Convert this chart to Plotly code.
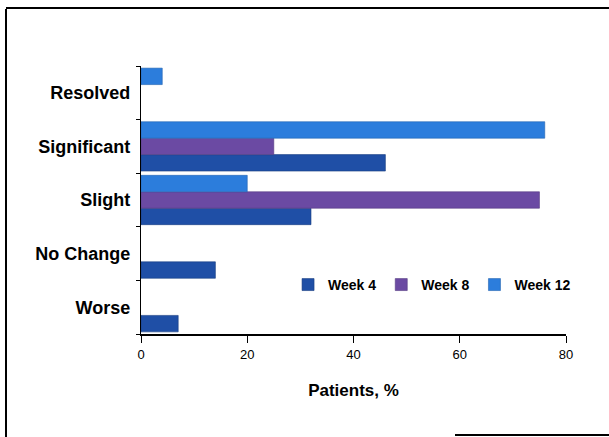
import plotly.graph_objects as go

categories = ["Worse", "No Change", "Slight", "Significant", "Resolved"]
series_names = ["Week 4", "Week 8", "Week 12"]
week4 = [7, 14, 32, 46, None]
week8 = [None, None, 75, 25, None]
week12 = [None, None, 20, 76, 4]
x_ticks = [0, 20, 40, 60, 80]

colors = ["#1f4fa6", "#6b4aa3", "#2c7ddc"]
edge = ["#173d80", "#553a82", "#2163b0"]

W, H = 609, 437
L, R, T, B = 141, 43, 66, 103
pw, ph = W - L - R, H - T - B

fig = go.Figure()
for name, vals, c, e in zip(series_names, [week4, week8, week12], colors, edge):
    fig.add_trace(go.Bar(
        y=categories, x=vals, name=name, orientation="h",
        marker=dict(color=c, line=dict(color=e, width=0.6)),
    ))

fig.update_layout(
    width=W, height=H,
    margin=dict(l=L, r=R, t=T, b=B, pad=0),
    paper_bgcolor="white", plot_bgcolor="white",
    barmode="group", bargap=0.08, bargroupgap=0,
    font=dict(family="Liberation Sans, Arial, sans-serif", color="black"),
    showlegend=True,
    legend=dict(
        orientation="h", x=0.346, y=0.183, xanchor="left", yanchor="middle",
        font=dict(size=14, family="Liberation Sans, Arial, sans-serif", weight="bold"),
        bgcolor="rgba(255,255,255,0)", traceorder="normal",
        itemwidth=30,
    ),
    xaxis=dict(
        range=[0, 80], tickvals=x_ticks, ticktext=[str(v) for v in x_ticks],
        ticks="outside", ticklen=7, tickwidth=1.2, tickcolor="black",
        showline=True, linecolor="black", linewidth=2,
        showgrid=False, zeroline=False,
        tickfont=dict(size=13),
        title=dict(text="Patients, %", font=dict(size=17, weight="bold"), standoff=24),
    ),
    yaxis=dict(
        type="category", categoryorder="array", categoryarray=categories,
        tickson="boundaries", ticks="outside", ticklen=4, tickcolor="black",
        showline=True, linecolor="black", linewidth=1.2,
        showgrid=False, zeroline=False,
        tickfont=dict(size=18, weight="bold"),
        ticklabelstandoff=6,
    ),
)

def px_x(px):
    return (px - L) / pw

def px_y(py):
    return (H - B - py) / ph

# outer frame lines of the scanned figure
frame = dict(color="black", width=2)
fig.add_shape(type="line", xref="paper", yref="paper",
              x0=px_x(6), x1=px_x(6), y0=px_y(9), y1=px_y(437), line=frame)
fig.add_shape(type="line", xref="paper", yref="paper",
              x0=px_x(6), x1=px_x(612), y0=px_y(8), y1=px_y(8), line=frame)
fig.add_shape(type="line", xref="paper", yref="paper",
              x0=px_x(455), x1=px_x(612), y0=px_y(435), y1=px_y(435), line=frame)

fig.write_html("out.html", config={"displayModeBar": False},
               post_script="document.body.style.margin='0';")
